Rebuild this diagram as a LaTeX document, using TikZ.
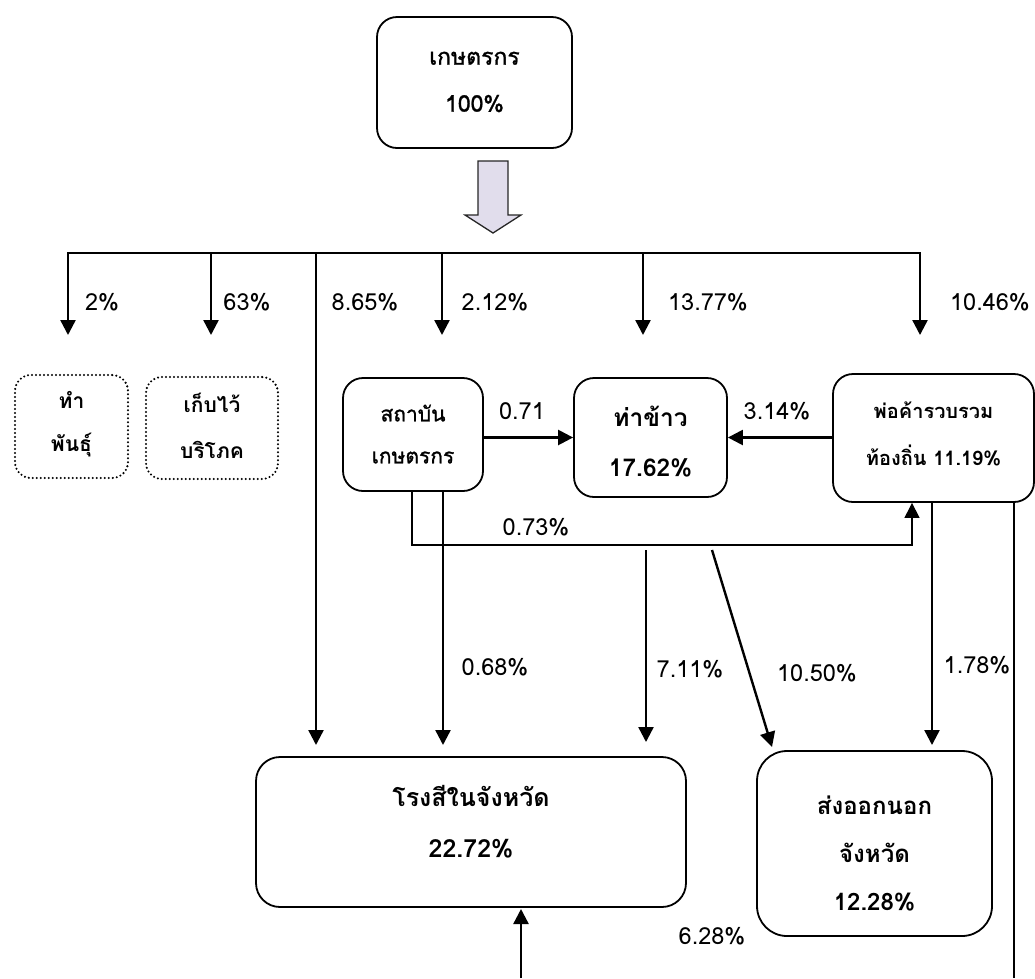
\documentclass[tikz,border=0pt]{standalone}
\usepackage{fontspec}
\setmainfont[Script=Thai]{Loma}
\newfontfamily\medfont[Script=Thai,FakeBold=1.2]{Loma}
\usetikzlibrary{arrows.meta}
\definecolor{lav}{RGB}{225,221,236}
\begin{document}
\begin{tikzpicture}[x=1pt,y=-1pt,
  box/.style={draw, line width=1.8pt, rounded corners=20pt, inner sep=0pt},
  dbox/.style={draw, line width=2.3pt, dash pattern=on 0pt off 4pt, line cap=round, rounded corners=16pt, inner sep=0pt},
  btxt/.style={align=center, font=\bfseries\fontsize{21}{47}\selectfont, inner sep=0pt},
  lbl/.style={font=\fontsize{23.5}{26}\selectfont, inner sep=0pt},
  arr/.style={line width=2.4pt, -{Triangle[length=15pt,width=15pt]}},
  tarr/.style={line width=1.2pt, -{Triangle[length=15pt,width=15pt]}},
  thin/.style={line width=1.1pt},
]
\useasboundingbox (0,0) rectangle (1035,978);

% boxes
\node[box, minimum width=195pt, minimum height=131pt] (farm) at (474.5,82.5) {};
\node[align=center, inner sep=0pt, font=\medfont\fontsize{23}{47}\selectfont] (farmT) at (474.5,82) {เกษตรกร\\100\%};

\node[dbox, minimum width=113pt, minimum height=103pt] (seed) at (71.5,426.5) {};
\node[btxt, font=\bfseries\fontsize{21}{43}\selectfont] (seedT) at (71.5,424) {ทำ\\พันธุ์};

\node[dbox, minimum width=132pt, minimum height=102pt] (keep) at (212,428) {};
\node[btxt, font=\bfseries\fontsize{21}{46}\selectfont] (keepT) at (212,426) {เก็บไว้\\บริโภค};

\node[box, minimum width=140pt, minimum height=113pt] (inst) at (413,434.5) {};
\node[btxt, font=\medfont\fontsize{21}{42}\selectfont] (instT) at (413,434) {สถาบัน\\เกษตรกร};

\node[box, minimum width=153pt, minimum height=119pt] (port) at (650.5,437.5) {};
\node[btxt, font=\bfseries\fontsize{24.5}{50}\selectfont] (portT) at (650.5,442) {ท่าข้าว\\17.62\%};

\node[box, minimum width=201pt, minimum height=128pt] (trader) at (933.5,438) {};
\node[btxt, font=\bfseries\fontsize{20}{47}\selectfont] (traderT) at (933.5,434) {พ่อค้ารวบรวม\\ท้องถิ่น 11.19\%};

\node[box, rounded corners=24pt, minimum width=430pt, minimum height=150pt] (mill) at (471,832) {};
\node[btxt, font=\bfseries\fontsize{25}{51}\selectfont] (millT) at (471,822) {โรงสีในจังหวัด\\22.72\%};

\node[box, rounded corners=30pt, minimum width=235pt, minimum height=185pt] (export) at (874.5,843.5) {};
\node[btxt, font=\bfseries\fontsize{24}{48}\selectfont] (exportT) at (874.5,853) {ส่งออกนอก\\จังหวัด\\12.28\%};

% big arrow
\fill[lav, draw=black!85, line width=1.3pt, line join=miter]
  (478,161) -- (508,161) -- (508,215) -- (521,215) -- (493,233) -- (465,215) -- (478,215) -- cycle;

% bus and drops
\coordinate (b1) at (68,253);  \coordinate (t1) at (68,335);
\coordinate (b2) at (211,253); \coordinate (t2) at (211,335);
\coordinate (b3) at (316,253); \coordinate (t3) at (316,745);
\coordinate (b4) at (442,253); \coordinate (t4) at (442,335);
\coordinate (b5) at (643,253); \coordinate (t5) at (643,335);
\coordinate (b6) at (920,253); \coordinate (t6) at (920,335);
\draw[line width=2.4pt, line cap=rect] (b1) -- (b6);
\foreach \i in {1,...,6} { \draw[arr] (b\i) -- (t\i); }

% horizontal links
\draw[arr] (inst.east |- port.west) -- (port.west);
\draw[arr] (trader.west |- port.east) -- (port.east);

% institution down links
\coordinate (x412) at (412,0);
\coordinate (x443) at (443,0);
\coordinate (k545) at (912,545);
\coordinate (m068) at (443,745);
\draw[tarr] (inst.south -| x412) |- (k545) -- (trader.south -| k545);
\draw[arr] (inst.south -| x443) -- (m068);

% port outflows
\coordinate (s711) at (646,550); \coordinate (e711) at (646,742);
\draw[arr] (s711) -- (e711);
\coordinate (s1050) at (712,550); \coordinate (e1050) at (772,747);
\draw[arr] (s1050) -- (e1050);

% trader outflows
\coordinate (x932) at (932,0); \coordinate (e178) at (932,745);
\draw[arr] (trader.south -| x932) -- (e178);
\coordinate (x1014) at (1014,0); \coordinate (bot1014) at (1014,978);
\draw[thin] (trader.south -| x1014) -- (bot1014);

% from below into mill
\coordinate (bot521) at (521,978); \coordinate (e628) at (521,909);
\draw[arr] (bot521) -- (e628);

% labels
\node[lbl] (l1) at (102,302) {2\%};
\node[lbl] (l2) at (247,302) {63\%};
\node[lbl] (l3) at (365,302) {8.65\%};
\node[lbl] (l4) at (495,302) {2.12\%};
\node[lbl] (l5) at (708,302) {13.77\%};
\node[lbl] (l6) at (990,302) {10.46\%};
\node[lbl] (l7) at (522,411) {0.71};
\node[lbl] (l8) at (777,411) {3.14\%};
\node[lbl] (l9) at (536,527) {0.73\%};
\node[lbl] (l10) at (495,667) {0.68\%};
\node[lbl] (l11) at (690,669) {7.11\%};
\node[lbl] (l12) at (817,673) {10.50\%};
\node[lbl] (l13) at (977,665) {1.78\%};
\node[lbl] (l14) at (712,936) {6.28\%};
\end{tikzpicture}
\end{document}
